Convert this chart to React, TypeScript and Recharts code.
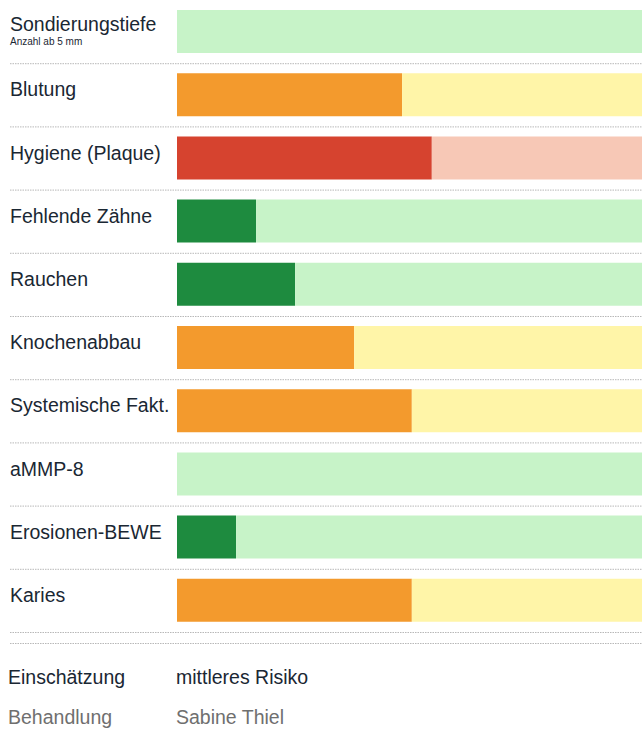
import React from 'react';
import { BarChart, Bar, Cell, XAxis, YAxis } from 'recharts';

const categories = [
  'Sondierungstiefe',
  'Blutung',
  'Hygiene (Plaque)',
  'Fehlende Zähne',
  'Rauchen',
  'Knochenabbau',
  'Systemische Fakt.',
  'aMMP-8',
  'Erosionen-BEWE',
  'Karies',
];
const subLabels = ['Anzahl ab 5 mm', '', '', '', '', '', '', '', '', ''];
const scores = [0, 48.4, 54.8, 17, 25.4, 38.1, 50.5, 0, 12.7, 50.5];
const levels = ['low', 'mid', 'high', 'low', 'low', 'mid', 'mid', 'low', 'low', 'mid'];

const footerLabels = ['Einschätzung', 'Behandlung'];
const footerValues = ['mittleres Risiko', 'Sabine Thiel'];

const fillColors: Record<string, string> = { low: '#1e8b3f', mid: '#f39a2d', high: '#d6432f' };
const trackColors: Record<string, string> = { low: '#c7f3c8', mid: '#fff5a8', high: '#f7c8b6' };

const W = 642;
const PLOT_H = 632;
const FONT = '"Liberation Sans", Arial, sans-serif';
const pitch = PLOT_H / categories.length;

const data = categories.map((name, i) => ({
  name,
  value: scores[i],
  rest: 100 - scores[i],
}));

function RowTick(props: any) {
  const { y, payload, index } = props;
  const sub = subLabels[index];
  return (
    <g>
      <text
        x={10}
        y={y + (sub ? -1 : 1.5)}
        textAnchor="start"
        fontFamily={FONT}
        fontSize={19.5}
        fill="#1a2733"
      >
        {payload.value}
      </text>
      {sub ? (
        <text x={10} y={y + 13} textAnchor="start" fontFamily={FONT} fontSize={10} fill="#1a2733">
          {sub}
        </text>
      ) : null}
      <line
        x1={10}
        x2={W}
        y1={y + pitch / 2 + 0.5}
        y2={y + pitch / 2 + 0.5}
        stroke="#b8b8b8"
        strokeDasharray="1.5 1"
      />
    </g>
  );
}

export default function App() {
  return (
    <div style={{ position: 'absolute', left: 0, top: 0, width: W, height: 729, background: '#fff', overflow: 'hidden' }}>
      <BarChart
        width={W}
        height={PLOT_H + 8}
        data={data}
        layout="vertical"
        margin={{ top: 0, right: 0, bottom: 8, left: 0 }}
      >
        <XAxis type="number" domain={[0, 100]} hide />
        <YAxis
          type="category"
          dataKey="name"
          width={177}
          axisLine={false}
          tickLine={false}
          interval={0}
          tick={<RowTick />}
        />
        <Bar dataKey="value" stackId="r" barSize={43} isAnimationActive={false}>
          {data.map((d, i) => (
            <Cell key={d.name} fill={fillColors[levels[i]]} />
          ))}
        </Bar>
        <Bar dataKey="rest" stackId="r" barSize={43} isAnimationActive={false}>
          {data.map((d, i) => (
            <Cell key={d.name} fill={trackColors[levels[i]]} />
          ))}
        </Bar>
      </BarChart>
      <svg width={W} height={729} style={{ position: 'absolute', left: 0, top: 0, pointerEvents: 'none' }}>
        <line x1={10} x2={W} y1={643.5} y2={643.5} stroke="#b8b8b8" strokeDasharray="1.5 1" />
        {footerLabels.map((label, i) => (
          <g key={label}>
            <text x={8} y={684 + i * 40} fontFamily={FONT} fontSize={19.5} fill={i === 0 ? '#1a2733' : '#6f6f6f'}>
              {label}
            </text>
            <text x={176} y={684 + i * 40} fontFamily={FONT} fontSize={19.5} fill={i === 0 ? '#1a2733' : '#6f6f6f'}>
              {footerValues[i]}
            </text>
          </g>
        ))}
      </svg>
    </div>
  );
}
